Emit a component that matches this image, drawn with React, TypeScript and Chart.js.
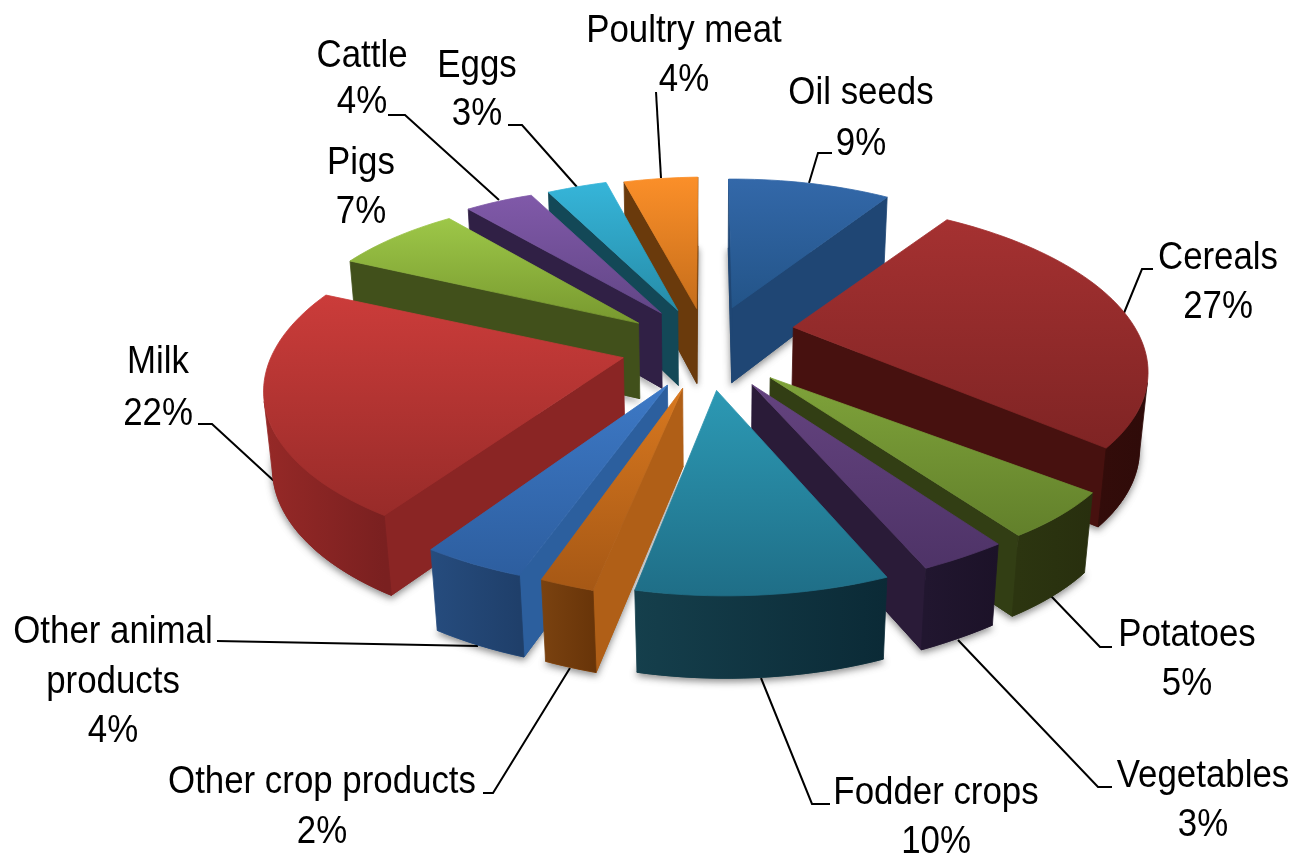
import React, { useEffect, useRef } from "react";
import Chart from "chart.js/auto";

// ---- data ----
const categories = ["Oil seeds", "Cereals", "Potatoes", "Vegetables", "Fodder crops", "Other crop products", "Other animal products", "Milk", "Pigs", "Cattle", "Eggs", "Poultry meat"];
const shares = [9, 27, 5, 3, 10, 2, 4, 22, 7, 4, 3, 4];

// ---- slice styling ----
const topLight = ["#3368a9", "#a53131", "#7fa33a", "#64437f", "#2c99b4", "#d8781f", "#3d79c6", "#cb3c3a", "#9dc748", "#8059a9", "#36b5d9", "#fb8f29"];
const topDark = ["#235488", "#7f2424", "#62802b", "#4e3367", "#1f6e87", "#a65815", "#2d5e9f", "#982b29", "#78992f", "#624686", "#268ca8", "#c66e1b"];
const radialWall = ["#1f4674", "#47110f", "#323e14", "#2a1b38", "#123c48", "#b05f17", "#2c5f9e", "#8a2524", "#41501b", "#302045", "#134857", "#6a3a0c"];
const outerLight = ["#1f4674", "#3e0f0d", "#2c3510", "#21162f", "#153f4c", "#7a4210", "#264c7e", "#962927", "#41501b", "#302045", "#134857", "#6a3a0c"];
const outerDark = ["#1f4674", "#2f0b09", "#282f0e", "#1c1228", "#0b2a36", "#693509", "#1f3f6a", "#7a2020", "#41501b", "#302045", "#134857", "#6a3a0c"];
const explodeOffsets = [95, 95, 95, 95, 95, 95, 95, 95, 95, 95, 95, 95];
const nudgeX = [1, 1, 4, 4, 3, 2, 2, -1, -3, -2, -2, -1];
const nudgeY = [-2, -14, -1, 0, 1, 1, 1, 0, 0, -1, 0, 0];
// perspective corrections of each slice's rim, at its start and its end edge
const rimStartX = [-1, -3, 20, 27, 20, 16, 7, -1, -3, -3, -5, 0];
const rimStartY = [7, 15, -4, -5, 2, 9, 7, 8, 1, 4, 6, 5];
const rimEndX = [-4, 18, 28, 19, 19, 12, 2, -5, 0, -7, -1, 0];
const rimEndY = [6, 9, -5, 0, 6, 7, 8, 4, 5, 7, 4, 4];
const rimBulge = [0, -0.012, 0, 0, 0, 0, 0, 0.015, 0, 0, 0, 0];

// ---- projection of the tilted pie ----
const CX = 708, CY = 347.5, RX = 343.6, RY = 162.6, TILT = 0.131, DEPTH = 78, DEPTH_W = 0.02, FRONT_TRIM = 3;

// ---- labels and leader polylines ----
const labelLines = [["Oil seeds", "9%"], ["Cereals", "27%"], ["Potatoes", "5%"], ["Vegetables", "3%"], ["Fodder crops", "10%"], ["Other crop products", "2%"], ["Other animal", "products", "4%"], ["Milk", "22%"], ["Pigs", "7%"], ["Cattle", "4%"], ["Eggs", "3%"], ["Poultry meat", "4%"]];
const labelX = [861, 1218, 1187, 1203, 936, 322, 113, 158, 361, 362, 477, 684];
const labelY = [104, 269, 646, 787, 804, 793, 643, 373, 174, 67, 77, 42];
const lineGap = [51, 49, 49, 49, 49, 50, 49.5, 52, 49, 46, 48, 49];
const leaders = [
  [[832, 153], [818, 153], [809, 183]],
  [[1153, 269], [1142, 269], [1124, 313]],
  [[1112, 647], [1100, 647], [1051, 596]],
  [[1112, 787], [1098, 787], [958, 640]],
  [[830, 804], [812, 804], [761, 678]],
  [[483, 793], [493, 793], [570, 668]],
  [[217, 641], [478, 646]],
  [[198, 424], [212, 424], [274, 481]],
  [],
  [[388, 115], [405, 115], [499, 200]],
  [[508, 125], [522, 125], [577, 187]],
  [[656, 92], [661, 178]],
];

type P = [number, number];
function project(X: number, V: number, level: number, i: number): P {
  const w = 1 - TILT * V + DEPTH_W * level;
  return [CX + (RX * X) / w + nudgeX[i], CY + (RY * V + DEPTH * level) / w + nudgeY[i]];
}
function tracePoly(ctx: CanvasRenderingContext2D, pts: P[]) {
  ctx.beginPath();
  pts.forEach((p, k) => (k ? ctx.lineTo(p[0], p[1]) : ctx.moveTo(p[0], p[1])));
  ctx.closePath();
}
function fillStroke(ctx: CanvasRenderingContext2D, pts: P[], style: any) {
  tracePoly(ctx, pts);
  ctx.fillStyle = style;
  ctx.strokeStyle = style;
  ctx.lineWidth = 0.8;
  ctx.fill();
  ctx.stroke();
}
const isVisible = (a: P, b: P, ab: P) => (b[0] - a[0]) * (ab[1] - a[1]) - (b[1] - a[1]) * (ab[0] - a[0]) < 0;

const pie3d = {
  id: "pie3d",
  beforeDatasetsDraw(chart: any) {
    const ctx: CanvasRenderingContext2D = chart.ctx;
    const arcs: any[] = chart.getDatasetMeta(0).data;

    // leader lines sit behind the pie
    ctx.save();
    ctx.strokeStyle = "#000";
    ctx.lineWidth = 2;
    leaders.forEach((l) => {
      if (!l.length) return;
      ctx.beginPath();
      l.forEach((p, k) => (k ? ctx.lineTo(p[0], p[1]) : ctx.moveTo(p[0], p[1])));
      ctx.stroke();
    });
    ctx.restore();

    const slices = arcs.map((arc, i) => {
      const s = arc.startAngle + Math.PI / 2;
      const t = arc.endAngle + Math.PI / 2;
      const m = (s + t) / 2;
      const e = arc.options.offset / arc.outerRadius;
      const ox = e * Math.sin(m);
      const ov = -e * Math.cos(m);
      const steps = Math.max(6, Math.round((t - s) / 0.03));
      const topRim: P[] = [];
      const botRim: P[] = [];
      for (let k = 0; k <= steps; k++) {
        const u = k / steps;
        const a = s + (t - s) * u;
        const r = 1 + rimBulge[i] * Math.sin(Math.PI * u);
        const X = ox + r * Math.sin(a);
        const V = ov - r * Math.cos(a);
        const dx = rimStartX[i] + (rimEndX[i] - rimStartX[i]) * u;
        const dy = rimStartY[i] + (rimEndY[i] - rimStartY[i]) * u;
        const pt = project(X, V, 0, i);
        const pb = project(X, V, 1, i);
        topRim.push([pt[0] + dx, pt[1] + dy]);
        botRim.push([pb[0] + dx, pb[1] + dy - FRONT_TRIM * Math.min(1, Math.max(0, V))]);
      }
      return { i, ox, ov, topRim, botRim };
    });
    // paint from the back to the front
    slices.sort((a, b) => a.ov - b.ov);

    slices.forEach(({ i, ox, ov, topRim, botRim }) => {
      const tipT = project(ox, ov, 0, i);
      const tipB = project(ox, ov, 1, i);
      const n = topRim.length - 1;

      // soft shadow under the slice
      ctx.save();
      ctx.shadowColor = "rgba(0,0,0,0.45)";
      ctx.shadowBlur = 7;
      ctx.shadowOffsetY = 3;
      fillStroke(ctx, [tipB, ...botRim], radialWall[i]);
      ctx.restore();

      // side walls facing the viewer
      if (isVisible(tipT, topRim[0], tipB)) fillStroke(ctx, [tipT, topRim[0], botRim[0], tipB], radialWall[i]);
      if (isVisible(topRim[n], tipT, botRim[n])) fillStroke(ctx, [topRim[n], tipT, tipB, botRim[n]], radialWall[i]);

      // curved outer wall: one polygon per visible run
      const xs = topRim.map((p) => p[0]);
      const wallGrad = ctx.createLinearGradient(Math.min(...xs), 0, Math.max(...xs), 0);
      wallGrad.addColorStop(0, outerLight[i]);
      wallGrad.addColorStop(1, outerDark[i]);
      let runStart = -1;
      for (let k = 0; k <= n; k++) {
        const vis = k < n && isVisible(topRim[k], topRim[k + 1], botRim[k]);
        if (vis && runStart < 0) runStart = k;
        if (!vis && runStart >= 0) {
          const a = topRim.slice(runStart, k + 1);
          const b = botRim.slice(runStart, k + 1).reverse();
          fillStroke(ctx, [...a, ...b], wallGrad);
          runStart = -1;
        }
      }

      // top face
      const ys = [tipT[1], ...topRim.map((p) => p[1])];
      const grad = ctx.createLinearGradient(0, Math.min(...ys), 0, Math.max(...ys));
      grad.addColorStop(0, topLight[i]);
      grad.addColorStop(1, topDark[i]);
      fillStroke(ctx, [tipT, ...topRim], grad);
    });

    // labels
    ctx.save();
    ctx.fillStyle = "#000";
    ctx.font = '38px "Liberation Sans"';
    ctx.textAlign = "center";
    ctx.textBaseline = "alphabetic";
    labelLines.forEach((lines, i) => {
      lines.forEach((line, k) => {
        ctx.save();
        ctx.translate(labelX[i], labelY[i] + k * lineGap[i]);
        ctx.scale(0.917, 1);
        ctx.fillText(line, 0, 0);
        ctx.restore();
      });
    });
    ctx.restore();
    return false;
  },
};

export default function App() {
  const ref = useRef<HTMLCanvasElement>(null);
  useEffect(() => {
    const chart = new Chart(ref.current!, {
      type: "pie",
      data: {
        labels: categories,
        datasets: [{ data: shares, backgroundColor: topLight, offset: explodeOffsets, borderWidth: 0 }],
      },
      options: {
        responsive: false,
        animation: false,
        devicePixelRatio: 1,
        layout: { padding: 0 },
        plugins: { legend: { display: false }, tooltip: { enabled: false } },
      },
      plugins: [pie3d],
    } as any);
    return () => chart.destroy();
  }, []);
  return (
    <div style={{ position: "fixed", left: 0, top: 0, width: 1297, height: 856, background: "#fff" }}>
      <canvas ref={ref} width={1297} height={856} style={{ display: "block" }} />
    </div>
  );
}
